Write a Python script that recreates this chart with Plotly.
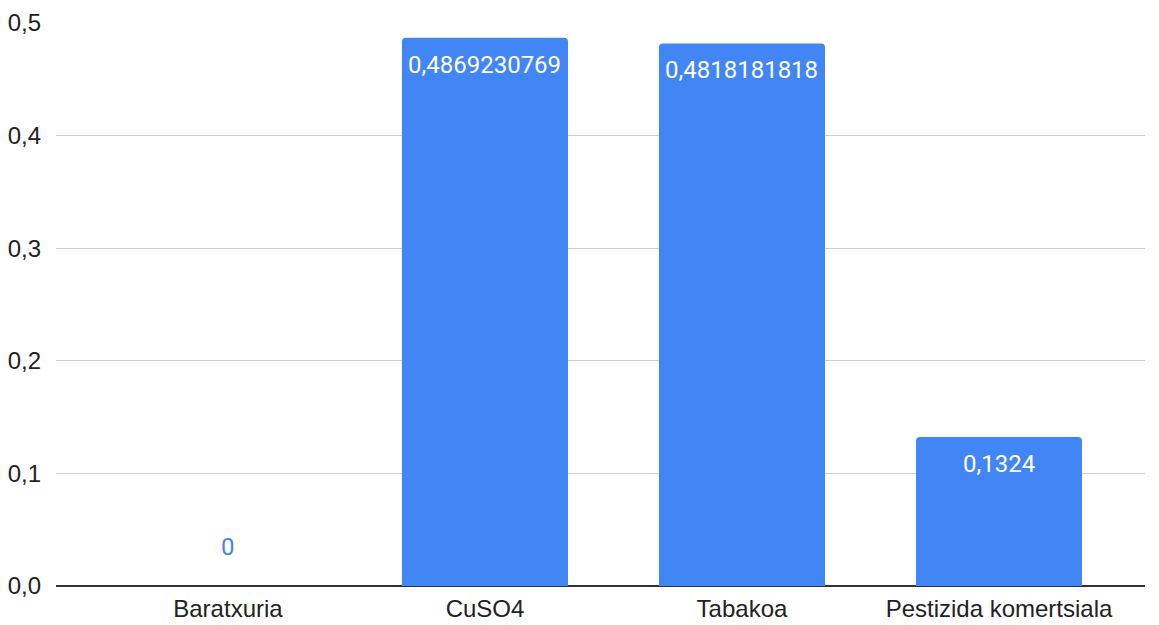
import plotly.graph_objects as go

categories = ["Baratxuria", "CuSO4", "Tabakoa", "Pestizida komertsiala"]
values = [0, 0.4869230769, 0.4818181818, 0.1324]
value_labels = ["0", "0,4869230769", "0,4818181818", "0,1324"]

BLUE = "#4285F4"
LABEL_FONT = "Roboto, Arial, sans-serif"
AXIS_FONT = "Liberation Sans, Arial, sans-serif"

fig = go.Figure()
fig.add_trace(go.Bar(
    x=list(range(len(categories))),
    y=values,
    width=0.646,
    marker=dict(color=BLUE, cornerradius=4, line=dict(width=0)),
    hoverinfo="skip",
))

for i, (v, lab) in enumerate(zip(values, value_labels)):
    inside = v > 0.05
    fig.add_annotation(
        x=i, y=v, text=lab, showarrow=False,
        yshift=-27 if inside else 39,
        font=dict(family=LABEL_FONT, size=24, color="white" if inside else BLUE),
    )

fig.update_layout(
    width=1159, height=625,
    margin=dict(l=56, r=14, t=23, b=39),
    paper_bgcolor="white", plot_bgcolor="white",
    separators=", ",
    showlegend=False,
    font=dict(family=AXIS_FONT, size=24, color="#222222"),
    xaxis=dict(
        range=[-0.669, 3.568],
        tickmode="array",
        tickvals=list(range(len(categories))),
        ticktext=categories,
        showgrid=False, showline=False, zeroline=False,
        ticks="", automargin=False,
        ticklabelstandoff=6,
        tickfont=dict(family=AXIS_FONT, size=24, color="#222222"),
    ),
    yaxis=dict(
        range=[0, 0.5],
        dtick=0.1, tick0=0,
        tickformat=".1f",
        showgrid=True, gridcolor="#cccccc", gridwidth=1,
        zeroline=True, zerolinecolor="#333333", zerolinewidth=2,
        showline=False, ticks="", automargin=False,
        ticklabelstandoff=14,
        tickfont=dict(family=AXIS_FONT, size=24, color="#222222"),
    ),
)

fig.write_html("out.html")
